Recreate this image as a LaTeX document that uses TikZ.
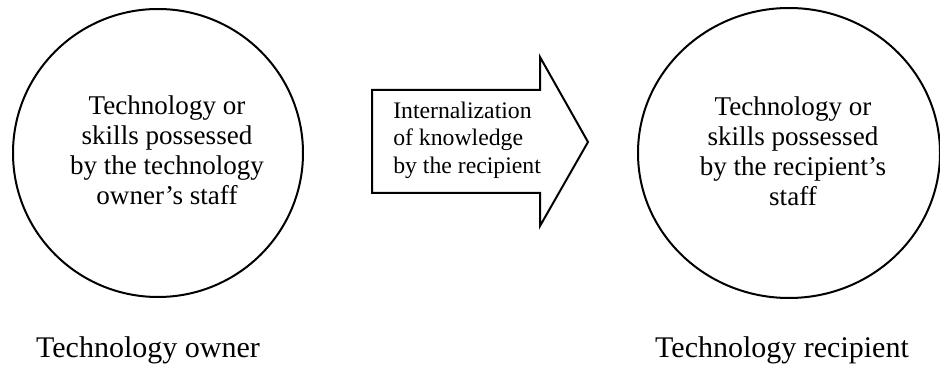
\documentclass[tikz,border=0pt]{standalone}
\usepackage{fontspec}
\setmainfont{Liberation Serif}
\usetikzlibrary{shapes.geometric}
\begin{document}
\begin{tikzpicture}[x=0.75pt,y=-0.75pt,
  oval/.style={draw=black,line width=1.5pt,ellipse,inner sep=0pt},
  intext/.style={align=center,inner sep=0pt,anchor=north,font=\fontsize{20.3}{22.5}\selectfont},
  arrtext/.style={align=left,inner sep=0pt,anchor=north west,font=\fontsize{17.8}{20.6}\selectfont},
  caption/.style={inner sep=0pt,anchor=base,font=\fontsize{22.5}{26}\selectfont},
  bigarrow/.style={draw=black,line width=1.5pt,line join=miter}]
\useasboundingbox (0,0) rectangle (940,367);
\node[oval,minimum width=217.5pt,minimum height=216pt] (owner) at (158,153) {};
\node[oval,minimum width=226.5pt,minimum height=217.5pt] (recip) at (789,153) {};
\node[intext] (ownertext) at (167,95) {Technology or\\skills possessed\\by the technology\\owner’s staff};
\node[intext] (reciptext) at (793,96) {Technology or\\skills possessed\\by the recipient’s\\staff};
\draw[bigarrow] (372,90) -- (540,90) -- (540,57) -- (588,142) -- (540,226) -- (540,193) -- (372,193) -- cycle;
\node[arrtext] (arrlabel) at (393,101.5) {Internalization\\of knowledge\\by the recipient};
\node[caption] (ownercap) at (148,358) {Technology owner};
\node[caption] (recipcap) at (782,358) {Technology recipient};
\end{tikzpicture}
\end{document}
